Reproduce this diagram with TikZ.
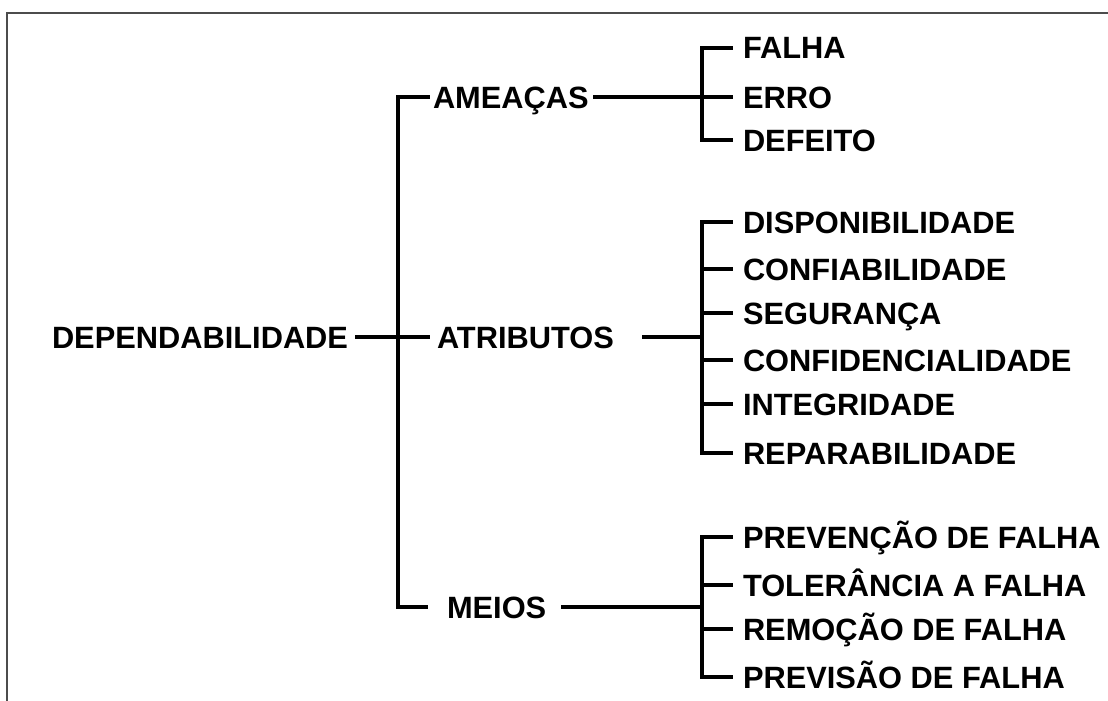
\documentclass[tikz,border=0pt]{standalone}
\usepackage{fontspec}
\setmainfont{Liberation Sans}
\begin{document}
\begin{tikzpicture}[x=1pt, y=-1pt, font=\bfseries\fontsize{30.8}{36}\selectfont, every node/.style={inner sep=0pt, outer sep=0pt, anchor=west, text height=22pt, text depth=0pt}, link/.style={line width=4.5pt, line join=miter, line cap=rect}, frame/.style={line width=2pt, draw=black!70}]
	\useasboundingbox (0,0) rectangle (1108,701);
	\draw[frame] (7,701) -- (7,13) -- (1108,13);
	
	% Raiz
	\node (dep) at (52,337) {DEPENDABILIDADE};
	\node (ame) at (433,97) {AMEAÇAS};
	\node (atr) at (437,337) {ATRIBUTOS};
	\node (mei) at (447,607) {MEIOS};
	\coordinate (sp) at (398,337);
	\draw[link] ([xshift=9]dep.east) -- (sp) -- ([xshift=-9]atr.west);
	\draw[link] ([xshift=-5]ame.west) -| (sp) |- ([xshift=-21]mei.west);
	
	% Ameaças
	\node (fal) at (743,48) {FALHA};
	\node (err) at (743,97) {ERRO};
	\node (def) at (743,140) {DEFEITO};
	\coordinate (ba) at (702,97);
	\draw[link] ([xshift=7]ame.east) -- ([xshift=-12]err.west);
	\draw[link] ([xshift=-12]fal.west) -| (ba) |- ([xshift=-12]def.west);
	
	% Atributos
	\node (dis) at (743,222) {DISPONIBILIDADE};
	\node (cnf) at (743,269) {CONFIABILIDADE};
	\node (seg) at (743,313) {SEGURANÇA};
	\node (cfd) at (743,360) {CONFIDENCIALIDADE};
	\node (itg) at (743,404) {INTEGRIDADE};
	\node (rep) at (743,453) {REPARABILIDADE};
	\coordinate (bt) at (702,337);
	\draw[link] ([xshift=30]atr.east) -- (bt);
	\draw[link] ([xshift=-12]dis.west) -| (bt) |- ([xshift=-12]rep.west);
	\foreach \n in {cnf, seg, cfd, itg}
		\draw[link] ([xshift=-12]\n.west) -- (bt |- \n.west);
	
	% Meios
	\node (pvc) at (743,537) {PREVENÇÃO DE FALHA};
	\node (tol) at (743,585) {TOLERÂNCIA A FALHA};
	\node (rem) at (743,629) {REMOÇÃO DE FALHA};
	\node (pvs) at (743,677) {PREVISÃO DE FALHA};
	\coordinate (bm) at (702,607);
	\draw[link] ([xshift=17]mei.east) -- (bm);
	\draw[link] ([xshift=-12]pvc.west) -| (bm) |- ([xshift=-12]pvs.west);
	\foreach \n in {tol, rem}
		\draw[link] ([xshift=-12]\n.west) -- (bm |- \n.west);
\end{tikzpicture}
\end{document}
